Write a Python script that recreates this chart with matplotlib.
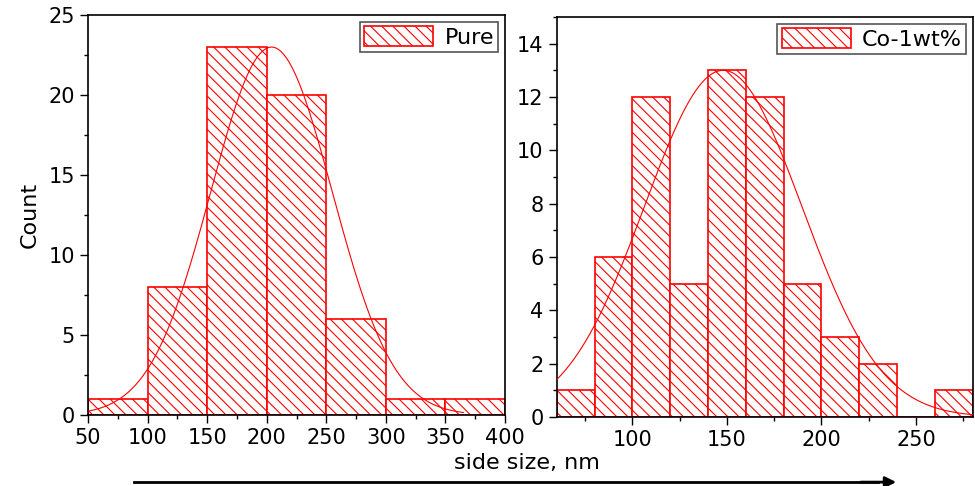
import matplotlib.pyplot as plt
import numpy as np
from matplotlib.ticker import MultipleLocator

plt.rcParams['font.family'] = ['DejaVu Sans']
plt.rcParams['hatch.color'] = 'red'
plt.rcParams['hatch.linewidth'] = 0.8

# pure sample
pure_edges = [50, 100, 150, 200, 250, 300, 350, 400]
pure_counts = [1, 8, 23, 20, 6, 1, 1]
pure_fit = (23, 204, 51)   # amplitude, centre, sigma
pure_fit_range = (50, 365)

# Co-1wt% sample
co_edges = [60, 80, 100, 120, 140, 160, 180, 200, 220, 240, 260, 280]
co_counts = [1, 6, 12, 5, 13, 12, 5, 3, 2, 0, 1]
co_fit = (13, 148, 41.7)
co_fit_range = (60, 280)


def gauss(x, a, m, s):
    return a * np.exp(-(x - m) ** 2 / (2 * s ** 2))


def panel(ax, edges, counts, fit, fit_range, label):
    edges = np.array(edges)
    w = np.diff(edges)
    ax.bar(edges[:-1], counts, width=w, align='edge', facecolor='white',
           edgecolor='red', hatch='\\\\\\', linewidth=1.2, label=label, zorder=2)
    x = np.linspace(fit_range[0], fit_range[1], 300)
    ax.plot(x, gauss(x, *fit), color='red', lw=0.8, zorder=3)
    ax.tick_params(direction='out', length=6, width=1, labelsize=15)
    ax.tick_params(which='minor', direction='out', length=3, width=1)
    for sp in ax.spines.values():
        sp.set_linewidth(1.2)
    leg = ax.legend(loc='upper right', fontsize=16, handlelength=3.1,
                    handleheight=1.0, fancybox=False, framealpha=1,
                    borderaxespad=0.3, borderpad=0.2, handletextpad=0.5)
    leg.get_frame().set_edgecolor('#555555')
    leg.get_frame().set_linewidth(1.2)


fig = plt.figure(figsize=(9.75, 4.86), dpi=100)
ax1 = fig.add_axes([0.0903, 0.146, 0.4277, 0.823])
ax2 = fig.add_axes([0.571, 0.142, 0.4267, 0.823])

panel(ax1, pure_edges, pure_counts, pure_fit, pure_fit_range, 'Pure')
ax1.set_xlim(50, 400)
ax1.set_ylim(0, 25)
ax1.xaxis.set_major_locator(MultipleLocator(50))
ax1.xaxis.set_minor_locator(MultipleLocator(25))
ax1.yaxis.set_major_locator(MultipleLocator(5))
ax1.yaxis.set_minor_locator(MultipleLocator(2.5))
ax1.set_ylabel('Count', fontsize=16, labelpad=6,
               family=['Liberation Sans Narrow', 'DejaVu Sans'])

panel(ax2, co_edges, co_counts, co_fit, co_fit_range, 'Co-1wt%')
ax2.set_xlim(60, 280)
ax2.set_ylim(0, 15)
ax2.set_xticks([100, 150, 200, 250])
ax2.set_xticks([75, 125, 175, 225, 275], minor=True)
ax2.yaxis.set_major_locator(MultipleLocator(2))
ax2.yaxis.set_minor_locator(MultipleLocator(1))

fig.text(0.54, 0.048, 'side size, nm', ha='center', va='center', fontsize=16)
fig.add_artist(plt.Line2D([0.137, 0.9], [0.008, 0.008], color='black', lw=2))
ax1.annotate('', xy=(0.922, 0.008), xytext=(0.88, 0.008), xycoords='figure fraction',
             textcoords='figure fraction',
             arrowprops=dict(arrowstyle='-|>', color='black', lw=2, mutation_scale=16))

fig.savefig('out.png', dpi=100)
